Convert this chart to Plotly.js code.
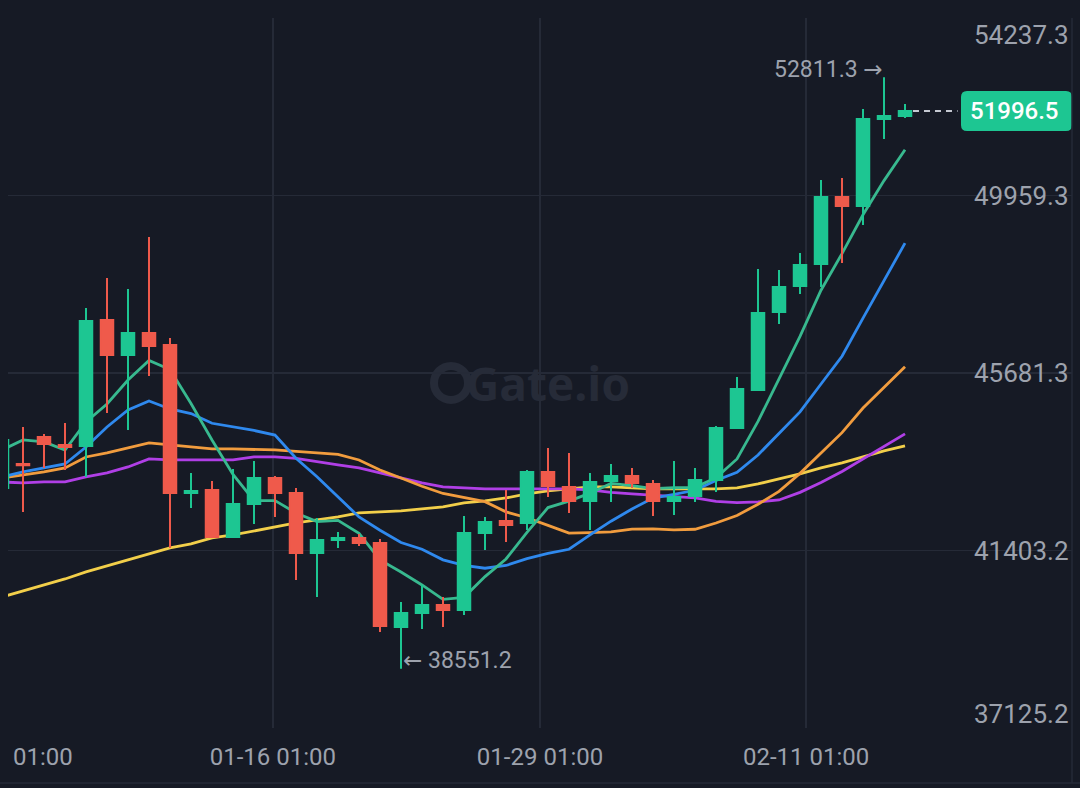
<!DOCTYPE html>
<html>
<head>
<meta charset="utf-8">
<script src="https://cdn.plot.ly/plotly-3.0.1.min.js"></script>
<style>
  html, body { margin: 0; padding: 0; background: #161a25; }
  #chart { width: 1080px; height: 788px; }
</style>
</head>
<body>
<div id="chart"></div>
<script>
// ---- Data (daily candles) ----
const open  = [42910.3, 43488.7, 44139.4, 43946.6, 43922.5, 46959.1, 46115.6, 46645.8, 46356.6, 42789.8,
               42862.1, 41729.4, 42524.7, 43151.3, 42789.8, 41343.8, 41657.1, 41705.3, 41584.8, 39560.4,
               39897.8, 40090.6, 39970.1, 41825.8, 42115.0, 42066.8, 43295.9, 42934.4, 42597.0, 43079.0,
               43199.5, 43006.7, 42597.0, 42717.5, 43103.1, 44356.3, 45272.1, 47151.9, 47778.5, 48308.7,
               49923.4, 49706.5, 51803.2, 51875.5];
const high  = [44211.7, 44380.4, 44211.7, 44476.8, 47248.3, 47971.3, 47706.2, 48959.4, 46525.3, 43271.8,
               43079.0, 43368.2, 43561.0, 43199.5, 42910.3, 42187.3, 41849.9, 41801.7, 41681.2, 40162.9,
               40572.6, 40283.4, 42235.5, 42211.4, 42862.1, 43344.1, 43874.3, 43753.8, 43271.8, 43488.7,
               43392.3, 43103.1, 43561.0, 43392.3, 44404.5, 45585.4, 48188.2, 48164.1, 48573.8, 50333.1,
               50381.3, 52044.2, 52811.3, 52164.7];
const low   = [42765.7, 42331.9, 43392.3, 43344.1, 43175.4, 44717.8, 44308.1, 45609.5, 41464.3, 42428.3,
               41705.3, 41705.3, 42042.7, 42211.4, 40693.1, 40283.4, 41464.3, 41512.5, 39439.9, 38551.2,
               39512.2, 39560.4, 39849.6, 41416.1, 41608.9, 41898.1, 42693.4, 42307.8, 41898.1, 42572.9,
               42910.3, 42235.5, 42259.6, 42572.9, 42813.9, 44356.3, 45272.1, 46862.7, 47585.7, 47754.4,
               48332.8, 49248.6, 51321.2, 51827.3];
const close = [44067.1, 43460.0, 43970.7, 43898.4, 46935.0, 46115.6, 46645.8, 46332.5, 42789.8, 42838.0,
               41729.4, 42524.7, 43151.3, 42789.8, 41343.8, 41657.1, 41705.3, 41584.8, 39584.5, 39897.8,
               40090.6, 39970.1, 41825.8, 42090.9, 42018.6, 43295.9, 42958.5, 42597.0, 43054.9, 43199.5,
               43030.8, 42597.0, 42693.4, 43103.1, 44356.3, 45296.2, 47127.8, 47754.4, 48284.6, 49923.4,
               49706.5, 51803.2, 51875.5, 51996.5];

// Moving averages as drawn in the reference
const ma5  = [43826.1, 44067.1, 44018.9, 43826.1, 44500.9, 44934.7, 45513.1, 45985.5, 45763.7, 44944.3,
              44067.1, 43238.1, 42606.6, 42606.6, 42307.8, 42100.5, 42129.5, 41816.2, 41175.1, 40885.9,
              40572.6, 40225.6, 40273.8, 40775.0, 41199.2, 41840.3, 42437.9, 42592.2, 42785.0, 43021.2,
              42968.1, 42895.8, 42915.1, 42924.8, 43156.1, 43609.2, 44515.4, 45527.6, 46563.9, 47677.3,
              48559.3, 49494.4, 50318.6, 51060.9];
const ma10 = [43175.4, 43295.9, 43392.3, 43488.7, 43898.4, 44380.4, 44790.1, 45007.0, 44814.2, 44703.3,
              44469.6, 44378.0, 44296.0, 44185.2, 43626.1, 43180.2, 42686.2, 42211.4, 41890.9, 41596.8,
              41433.0, 41177.5, 41045.0, 40975.1, 41042.5, 41206.4, 41331.7, 41433.0, 41780.0, 42110.2,
              42404.2, 42666.9, 42753.6, 42854.9, 43088.6, 43288.7, 43705.6, 44221.3, 44744.3, 45416.7,
              46084.3, 47004.9, 47923.1, 48812.4];
const ma20 = [43151.3, 43223.6, 43295.9, 43392.3, 43657.4, 43753.8, 43874.3, 43994.8, 43946.6, 43898.4,
              43850.2, 43850.2, 43838.2, 43826.1, 43789.9, 43753.8, 43717.6, 43585.1, 43344.1, 43151.3,
              42951.3, 42777.7, 42670.5, 42580.1, 42334.3, 42193.3, 42009.0, 41822.2, 41835.4, 41853.5,
              41918.6, 41922.2, 41899.3, 41915.0, 42065.6, 42247.5, 42518.7, 42827.1, 43262.2, 43763.4,
              44244.1, 44835.9, 45338.4, 45833.6];
const ma30 = [43054.9, 43030.8, 43054.9, 43054.9, 43175.4, 43271.8, 43416.4, 43609.2, 43585.1, 43585.1,
              43585.1, 43585.1, 43657.4, 43657.4, 43621.2, 43536.9, 43464.6, 43392.3, 43271.8, 43151.3,
              43030.8, 42934.4, 42910.3, 42886.2, 42886.2, 42886.2, 42886.2, 42886.2, 42862.1, 42804.3,
              42768.1, 42741.6, 42698.2, 42671.7, 42584.9, 42558.4, 42575.3, 42621.1, 42804.3, 43040.4,
              43307.9, 43616.4, 43908.0, 44214.1];
const ma60 = [40283.4, 40428.0, 40572.6, 40717.2, 40885.9, 41030.5, 41175.1, 41319.7, 41464.3, 41560.7,
              41705.3, 41777.6, 41874.0, 41970.4, 42066.8, 42139.1, 42211.4, 42307.8, 42331.9, 42356.0,
              42404.2, 42452.4, 42548.8, 42597.0, 42669.3, 42765.7, 42838.0, 42886.2, 42934.4, 42934.4,
              42910.3, 42886.2, 42886.2, 42886.2, 42886.2, 42910.3, 43006.7, 43127.2, 43247.7, 43392.3,
              43512.8, 43657.4, 43802.0, 43922.5];

// Axis ticks / labels
const yTickVals = [54237.3, 49959.3, 45681.3, 41403.2, 37125.2];
const yTickText = ['54237.3', '49959.3', '45681.3', '41403.2', '37125.2'];
const xTickText = ['', '01-16 01:00', '01-29 01:00', '02-11 01:00'];
const firstXLabel = '01:00';                      // the clipped first date label
const xTickPos  = [0.29, 12.9, 25.62, 38.29];   // grid positions in candle-index units
const maxLabel = '52811.3';
const minLabel = '38551.2';
const lastLabel = '51996.5';

// ---- Styling ----
const BG = '#161a25';
const GRID = '#252a37';
const LABEL = '#9da2ad';
const GREEN = '#1dc692';
const RED = '#ef5a4b';
const FONT = 'Roboto, "DejaVu Sans", sans-serif';

const dayIndex = close.map((_, i) => i);
const xRange = [0.2857, 50.952];
const yRange = [yTickVals[4], yTickVals[0]];

const maDefs = [
  { y: ma60, color: '#f2cf4a' },
  { y: ma30, color: '#b03fe6' },
  { y: ma20, color: '#f19c3e' },
  { y: ma10, color: '#2f89ee' },
  { y: ma5,  color: '#38b98f' }
];

const traces = maDefs.map(d => ({
  type: 'scatter', mode: 'lines', x: dayIndex, y: d.y,
  line: { color: d.color, width: 2.8 }, hoverinfo: 'skip', xaxis: 'x', yaxis: 'y'
}));

traces.push({
  type: 'candlestick', x: dayIndex, open: open, high: high, low: low, close: close,
  xaxis: 'x2', yaxis: 'y2', hoverinfo: 'skip', whiskerwidth: 0,
  increasing: { line: { color: GREEN, width: 2 }, fillcolor: GREEN },
  decreasing: { line: { color: RED, width: 2 }, fillcolor: RED }
});

const lastIdx = close.length - 1;
const annotations = yTickVals.map((v, k) => ({
  xref: 'paper', x: 1, xanchor: 'right', xshift: -1,
  yref: 'y', y: v, yanchor: 'middle',
  yshift: k === 0 ? -17 : (k === yTickVals.length - 1 ? 14 : 0),
  text: yTickText[k], showarrow: false,
  font: { family: FONT, size: 26, color: LABEL }
}));

annotations.push({
  xref: 'paper', x: (43 - 8) / 1064, xanchor: 'center',
  yref: 'paper', y: (728 - 757) / 710, yanchor: 'middle',
  text: firstXLabel, showarrow: false,
  font: { family: FONT, size: 24, color: LABEL }
});

const hiIdx = high.indexOf(Math.max(...high));
const loIdx = low.indexOf(Math.min(...low));
annotations.push({
  xref: 'x', x: hiIdx, xanchor: 'right', xshift: 1,
  yref: 'y', y: high[hiIdx], yanchor: 'middle', yshift: 8,
  text: maxLabel + ' \u2192', showarrow: false,
  font: { family: FONT, size: 23, color: LABEL }
});
annotations.push({
  xref: 'x', x: loIdx, xanchor: 'left', xshift: 0,
  yref: 'y', y: low[loIdx], yanchor: 'middle', yshift: 8,
  text: '\u2190 ' + minLabel, showarrow: false,
  font: { family: FONT, size: 23, color: LABEL }
});
annotations.push({
  xref: 'paper', x: 1, xanchor: 'right', xshift: -11,
  yref: 'y', y: close[lastIdx], yanchor: 'middle',
  text: lastLabel, showarrow: false,
  font: { family: FONT, size: 24, color: '#ffffff', weight: 500 }
});
// watermark
annotations.push({
  xref: 'paper', x: 0.5075, xanchor: 'center',
  yref: 'paper', y: 0.486, yanchor: 'middle',
  text: '<b>Gate.io</b>', showarrow: false,
  font: { family: '"Open Sans", Roboto, sans-serif', size: 46, color: '#262b38' }
});

const shapes = [
  // price tag box
  {
    type: 'path', xref: 'paper', yref: 'y', xsizemode: 'pixel', ysizemode: 'pixel',
    xanchor: 1, yanchor: close[lastIdx],
    path: 'M -105,-20 L -6,-20 Q 0,-20 0,-14 L 0,14 Q 0,20 -6,20 L -105,20 Q -111,20 -111,14 L -111,-14 Q -111,-20 -105,-20 Z',
    fillcolor: GREEN, line: { width: 0 }, layer: 'above'
  },
  // dotted last-price line
  {
    type: 'line', xref: 'x', yref: 'y', x0: lastIdx + 0.38, x1: lastIdx + 2.5,
    y0: close[lastIdx], y1: close[lastIdx],
    line: { color: '#c5c9d2', width: 2, dash: '6px,5px' }, layer: 'above'
  },
  // watermark logo ring
  {
    type: 'circle', xref: 'paper', yref: 'paper', xsizemode: 'pixel', ysizemode: 'pixel',
    xanchor: (451 - 8) / 1064, yanchor: 0.486, x0: -17, x1: 17, y0: -17, y1: 17,
    line: { color: '#262b38', width: 8 }, layer: 'below'
  },
  // bottom border line
  {
    type: 'line', xref: 'paper', yref: 'paper', x0: -0.01, x1: 1.01, y0: -0.0775, y1: -0.0775,
    line: { color: GRID, width: 1.5 }
  },
  // right border line
  {
    type: 'line', xref: 'paper', yref: 'paper', x0: 1, x1: 1, y0: -0.0775, y1: 1,
    line: { color: GRID, width: 1.5 }
  }
];

const layout = {
  width: 1080, height: 788,
  paper_bgcolor: BG, plot_bgcolor: BG,
  margin: { l: 8, r: 8, t: 18, b: 60, pad: 0 },
  showlegend: false,
  hovermode: false,
  xaxis: {
    range: xRange, tickmode: 'array', tickvals: xTickPos, ticktext: xTickText,
    showgrid: true, gridcolor: GRID, gridwidth: 1.5, zeroline: false, showline: false,
    ticks: '', ticklabelstandoff: 12,
    tickfont: { family: FONT, size: 24, color: LABEL }, fixedrange: true
  },
  yaxis: {
    range: yRange, tickmode: 'array', tickvals: yTickVals, showticklabels: false,
    showgrid: true, gridcolor: GRID, gridwidth: 1.5, zeroline: false, showline: false, fixedrange: true
  },
  xaxis2: { overlaying: 'x', anchor: 'y2', range: xRange, visible: false, rangeslider: { visible: false }, fixedrange: true },
  yaxis2: { overlaying: 'y', anchor: 'x2', range: yRange, visible: false, fixedrange: true },
  boxgap: 0.15,
  annotations: annotations,
  shapes: shapes
};

Plotly.newPlot('chart', traces, layout, { staticPlot: true, displayModeBar: false });
</script>
</body>
</html>
